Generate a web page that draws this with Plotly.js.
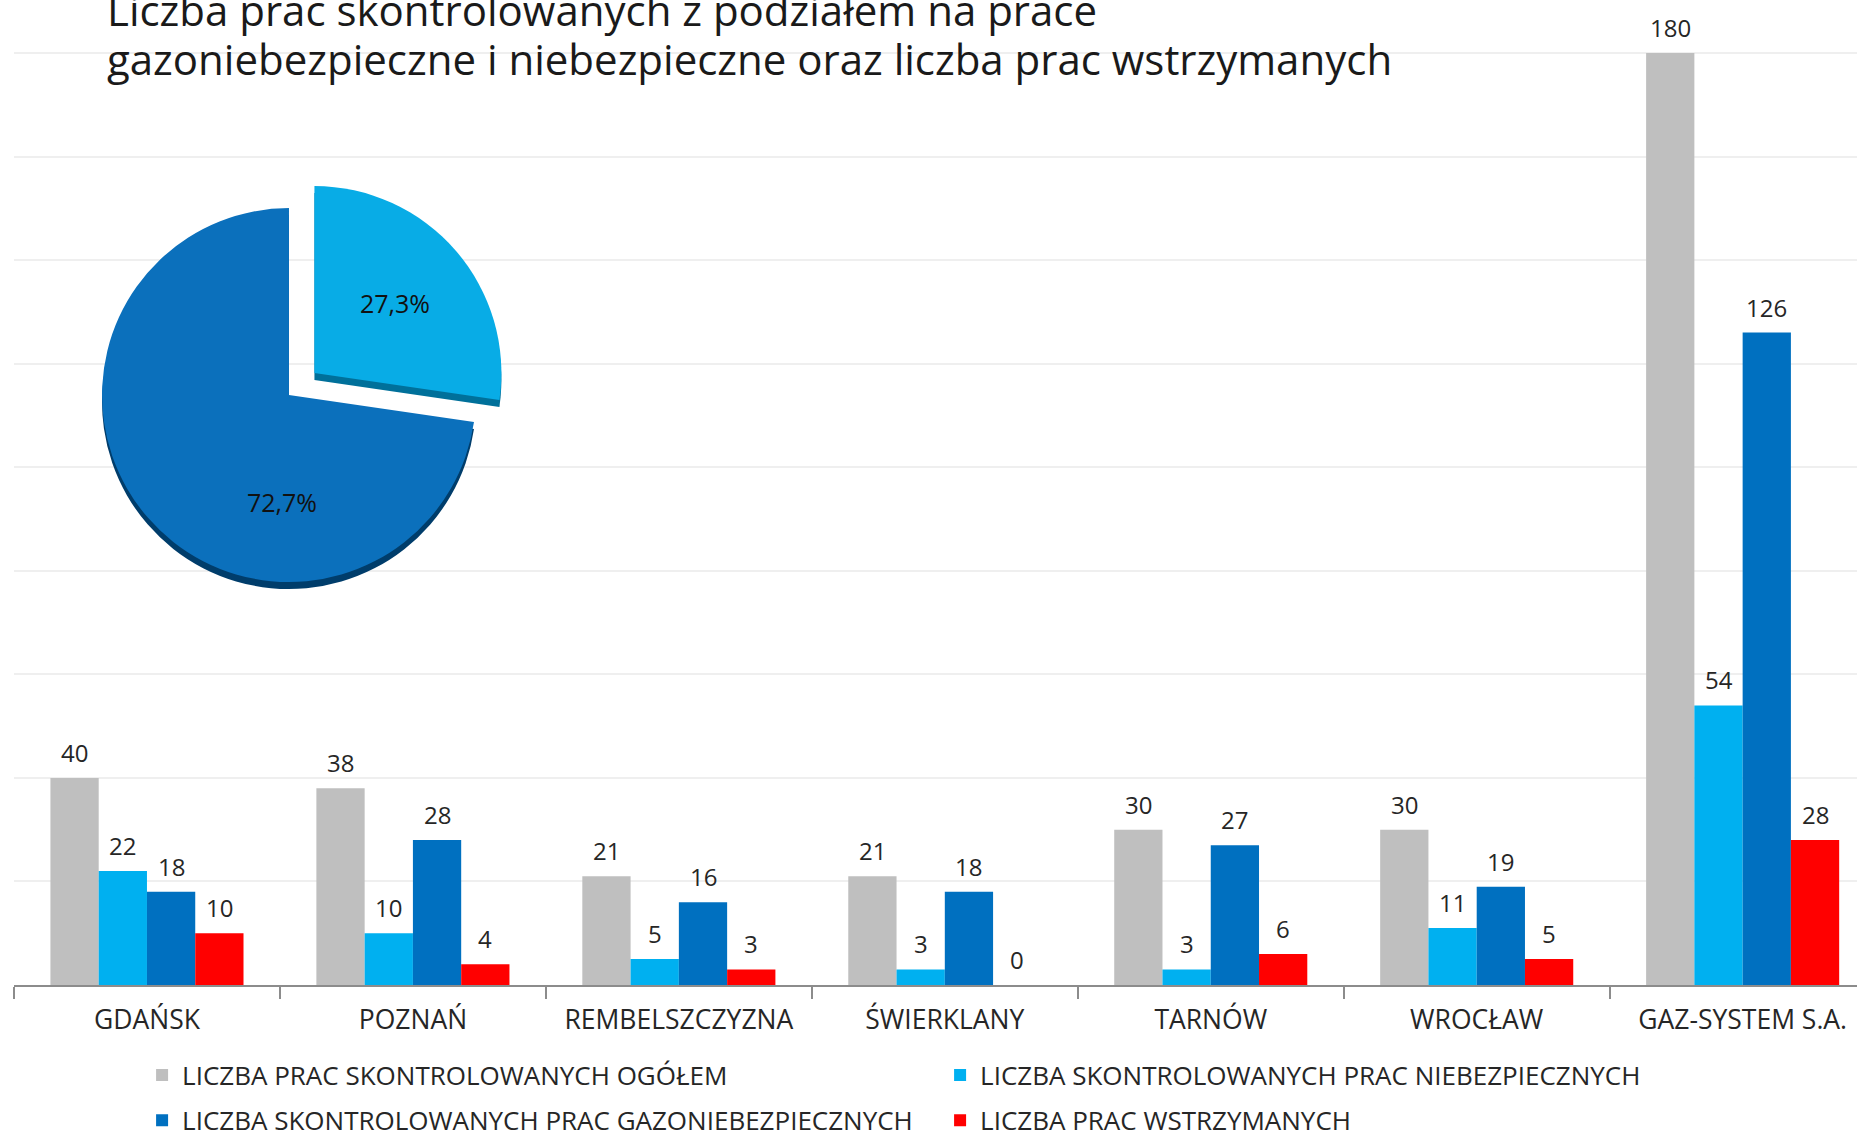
<!DOCTYPE html>
<html>
<head>
<meta charset="utf-8">
<script src="https://cdn.plot.ly/plotly-3.0.1.min.js"></script>
<style>
  html, body { margin: 0; padding: 0; background: #fff; }
  #chart { width: 1857px; height: 1137px; }
</style>
</head>
<body>
<div id="chart"></div>
<script>
var cities = ['GDAŃSK', 'POZNAŃ', 'REMBELSZCZYZNA', 'ŚWIERKLANY', 'TARNÓW', 'WROCŁAW', 'GAZ-SYSTEM S.A.'];

var seriesNames = [
  'LICZBA PRAC SKONTROLOWANYCH OGÓŁEM',
  'LICZBA SKONTROLOWANYCH PRAC NIEBEZPIECZNYCH',
  'LICZBA SKONTROLOWANYCH PRAC GAZONIEBEZPIECZNYCH',
  'LICZBA PRAC WSTRZYMANYCH'
];
var ogolem = [40, 38, 21, 21, 30, 30, 180];
var niebezpieczne = [22, 10, 5, 3, 3, 11, 54];
var gazoniebezpieczne = [18, 28, 16, 18, 27, 19, 126];
var wstrzymane = [10, 4, 3, 0, 6, 5, 28];

var pieLabels = ['niebezpieczne', 'gazoniebezpieczne'];
var pieValues = [27.3, 72.7];

var colors = ['#bfbfbf', '#00b0f0', '#0070c0', '#ff0000'];
var allSeries = [ogolem, niebezpieczne, gazoniebezpieczne, wstrzymane];
var FONT = 'Open Sans, sans-serif';
var bargap = 0.274;
var pieDomain = {x: [0.0295, 0.2689], y: [0.3955, 0.8691]};

var data = [];
allSeries.forEach(function (vals, i) {
  data.push({
    type: 'bar',
    name: seriesNames[i],
    x: cities,
    y: vals,
    marker: {color: colors[i], line: {width: 0}},
    legend: i < 2 ? 'legend' : 'legend2',
    hoverinfo: 'x+y'
  });
});

// shadow pie gives the 3D edge under the slices
data.push({
  type: 'pie',
  values: pieValues,
  labels: pieLabels,
  sort: false,
  direction: 'clockwise',
  rotation: 0,
  pull: [0.18, 0],
  marker: {colors: ['#00709a', '#003d6b'], line: {width: 0}},
  textinfo: 'none',
  hoverinfo: 'skip',
  showlegend: false,
  domain: {x: pieDomain.x, y: [pieDomain.y[0] - 0.0075, pieDomain.y[1] - 0.0075]}
});
data.push({
  type: 'pie',
  values: pieValues,
  labels: pieLabels,
  sort: false,
  direction: 'clockwise',
  rotation: 0,
  pull: [0.18, 0],
  marker: {colors: ['#08ace6', '#0b70bc'], line: {width: 0}},
  texttemplate: ['%{percent:.1%}', ''],
  textposition: 'inside',
  insidetextorientation: 'horizontal',
  insidetextfont: {family: FONT, size: 25, color: '#111'},
  showlegend: false,
  domain: pieDomain
});

function fmtPct(v) {
  var total = pieValues.reduce(function (a, b) { return a + b; }, 0);
  return (v / total * 100).toFixed(1).replace('.', ',') + '%';
}

// value labels above bars
var annotations = [];
var bw = (1 - bargap) / 4;
allSeries.forEach(function (vals, j) {
  vals.forEach(function (v, i) {
    annotations.push({
      xref: 'x', yref: 'y',
      x: i + (j - 1.5) * bw,
      y: v,
      text: String(v),
      showarrow: false,
      yanchor: 'bottom',
      yshift: 7,
      font: {family: FONT, size: 24, color: '#262626'}
    });
  });
});

// label of the large slice sits below the pie centre, as in the original
annotations.push({
  xref: 'paper', yref: 'paper',
  x: (pieDomain.x[0] + pieDomain.x[1]) / 2 - 0.0236,
  y: (pieDomain.y[0] + pieDomain.y[1]) / 2 - 0.115,
  text: fmtPct(pieValues[1]),
  showarrow: false,
  font: {family: FONT, size: 25, color: '#111'}
});

var layout = {
  width: 1857,
  height: 1137,
  margin: {l: 14, r: 0, t: 52, b: 152, autoexpand: false},
  paper_bgcolor: '#ffffff',
  plot_bgcolor: '#ffffff',
  font: {family: FONT, color: '#262626'},
  separators: ', ',
  barmode: 'group',
  bargap: bargap,
  bargroupgap: 0,
  title: {
    text: '<span style="font-size:42px">Liczba prac skontrolowanych z podziałem na prace</span><br>' +
          '<span style="font-size:42px">gazoniebezpieczne i niebezpieczne oraz liczba prac wstrzymanych</span>',
    font: {family: FONT, size: 38, color: '#1a1a1a'},
    xref: 'container', yref: 'container',
    x: 0.0576, xanchor: 'left',
    y: 1.006, yanchor: 'top'
  },
  xaxis: {
    type: 'category',
    range: [-0.5, 6.43],
    showline: true,
    linecolor: '#8c8c8c',
    linewidth: 2,
    ticks: 'outside',
    tickson: 'boundaries',
    ticklen: 12,
    tickcolor: '#8c8c8c',
    tickwidth: 2,
    showgrid: false,
    tickfont: {family: FONT, size: 26.5, color: '#262626'},
    ticklabelstandoff: 10
  },
  yaxis: {
    range: [0, 180.2],
    dtick: 20,
    showticklabels: false,
    showgrid: true,
    gridcolor: '#efefef',
    gridwidth: 2,
    zeroline: false,
    fixedrange: true
  },
  legend: {
    orientation: 'h',
    x: 0.0695, xanchor: 'left',
    y: -0.0966, yanchor: 'middle',
    entrywidth: 753, entrywidthmode: 'pixels',
    font: {family: FONT, size: 26, color: '#262626'},
    bgcolor: 'rgba(0,0,0,0)'
  },
  legend2: {
    orientation: 'h',
    x: 0.0695, xanchor: 'left',
    y: -0.145, yanchor: 'middle',
    entrywidth: 753, entrywidthmode: 'pixels',
    font: {family: FONT, size: 26, color: '#262626'},
    bgcolor: 'rgba(0,0,0,0)'
  },
  annotations: annotations
};

Plotly.newPlot('chart', data, layout, {displayModeBar: false, responsive: false});
</script>
</body>
</html>
